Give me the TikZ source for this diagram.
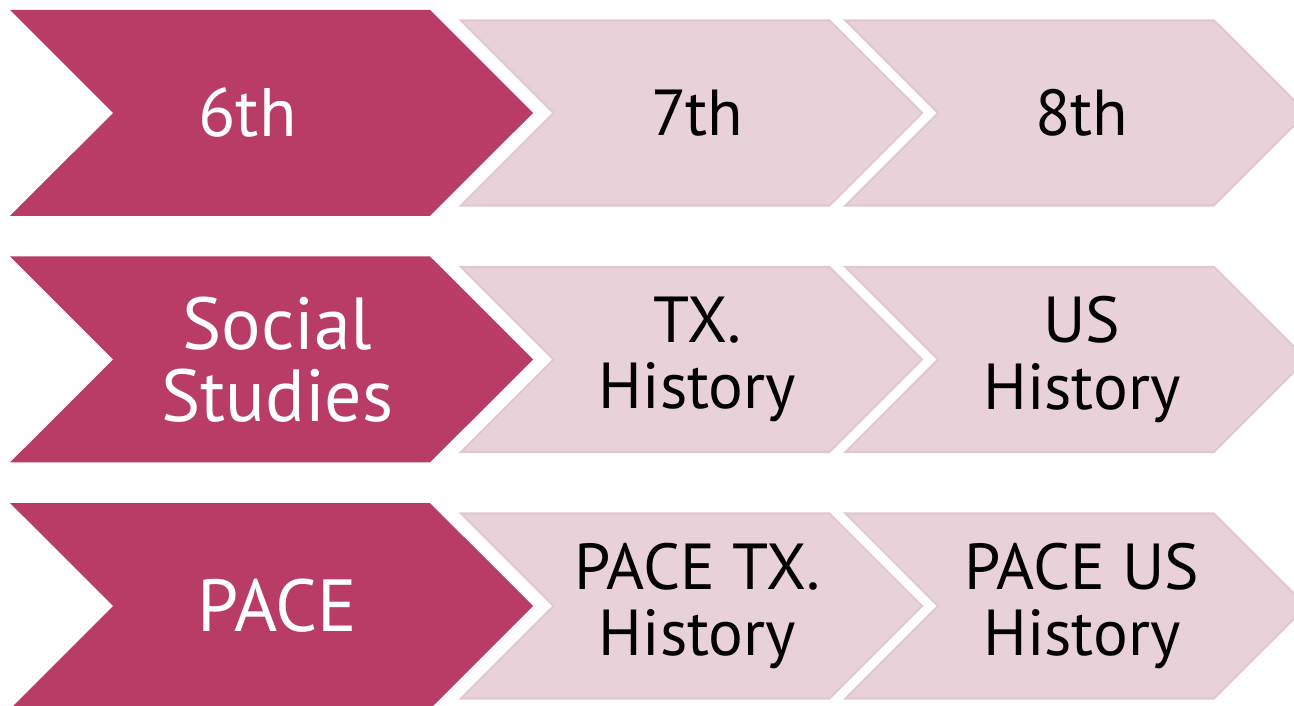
\documentclass[tikz,border=0pt]{standalone}
\usepackage{fontspec}
\setmainfont{PT Sans}
\usetikzlibrary{shapes.symbols}
\definecolor{berry}{RGB}{185,60,103}
\definecolor{blush}{RGB}{232,209,216}
\definecolor{blushline}{RGB}{226,199,208}

\begin{document}
\begin{tikzpicture}[inner sep=0pt,
  chevron/.style={signal,signal from=west,signal to=east,signal pointer angle=90,align=center},
  dark node/.style={chevron,fill=berry,text=white,minimum width=10.46cm,minimum height=4.12cm,font=\fontsize{42}{41}\selectfont},
  light node/.style={chevron,fill=blush,draw=blushline,line width=1.2pt,text=black,minimum width=9.22cm,minimum height=3.70cm,font=\fontsize{37}{38}\selectfont}]
  \useasboundingbox (0,0) rectangle (25.88,-14.12);
  \clip (0,0) rectangle (25.88,-14.12);

  \node[dark node] (g6) at (5.43,-2.26) {\fontsize{39}{40}\selectfont 6th\hspace*{0.96cm}};
  \node[light node] (g7) at (13.83,-2.26) {\hspace*{0.24cm}7th};
  \node[light node] (g8) at (21.52,-2.26) {\hspace*{0.24cm}8th};

  \node[dark node] (ss) at (5.43,-7.19) {\hspace*{0.24cm}Social\\\hspace*{0.24cm}Studies};
  \node[light node] (tx) at (13.83,-7.19) {\hspace*{0.24cm}TX.\\\hspace*{0.24cm}History};
  \node[light node] (us) at (21.52,-7.19) {\hspace*{0.24cm}US\\\hspace*{0.24cm}History};

  \node[dark node] (pace) at (5.43,-12.12) {\hspace*{0.24cm}PACE};
  \node[light node] (ptx) at (13.83,-12.12) {\hspace*{0.24cm}PACE TX.\\\hspace*{0.24cm}History};
  \node[light node] (pus) at (21.52,-12.12) {\hspace*{0.24cm}PACE US\\\hspace*{0.24cm}History};
\end{tikzpicture}
\end{document}
